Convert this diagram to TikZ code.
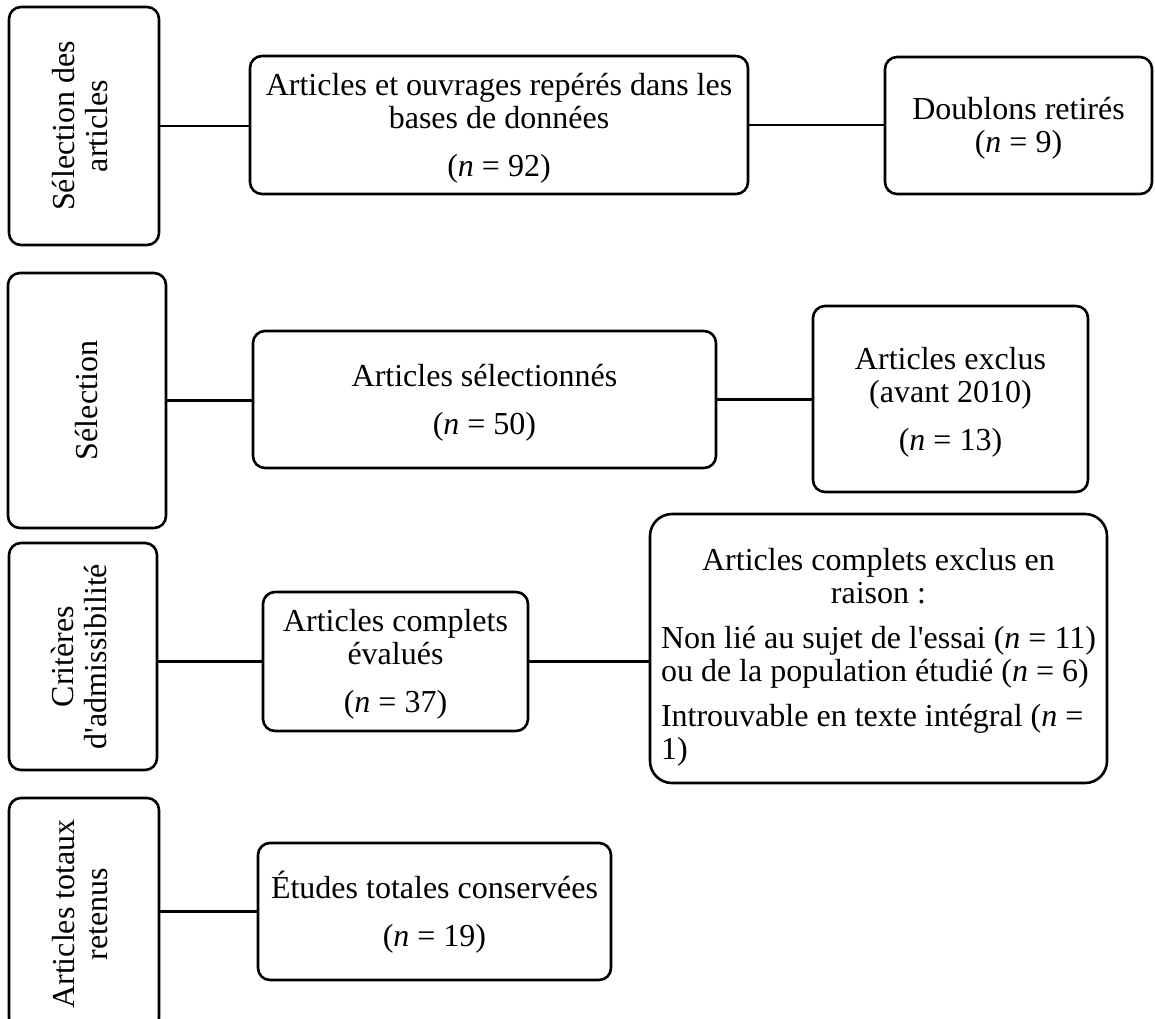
\documentclass[tikz,border=0pt]{standalone}
\usepackage{fontspec}
\newfontfamily\mainf{Liberation Serif}
\usepackage{graphicx}
\newcommand\bfnt{\mainf\fontsize{16}{16.5}\selectfont}
\newcommand\twolines[2]{\begin{tabular}{@{}c@{}}#1\\#2\end{tabular}}
\newcommand\ctr[1]{\multicolumn{1}{@{}c@{}}{#1}}
\begin{document}
\begin{tikzpicture}[x=0.5pt,y=-0.5pt,
  box/.style={draw, line width=1.3pt, rounded corners=6pt, inner sep=0pt,
    align=center, font=\bfnt},
  conn/.style={line width=1.3pt}]
\useasboundingbox (0,0) rectangle (1155,1018);

% left column
\node[box, minimum width=75pt, minimum height=119pt] (L1) at (84,126)
  {\rotatebox{90}{\twolines{Sélection des}{articles}}};
\node[box, minimum width=79pt, minimum height=127.5pt] (L2) at (87,400.5)
  {\rotatebox{90}{Sélection}};
\node[box, minimum width=74pt, minimum height=113.5pt] (L3) at (83,656.5)
  {\rotatebox{90}{\twolines{Critères}{d'admissibilité}}};
\node[box, minimum width=75pt, minimum height=116pt] (L4) at (84,914)
  {\rotatebox{90}{\twolines{Articles totaux}{retenus}}};

% middle column
\node[box, minimum width=249pt, minimum height=69pt] (M1) at (499,125)
  {\rule{0pt}{14pt}Articles et ouvrages repérés dans les\\bases de données\\[7.5pt](\textit{n} = 92)};
\node[box, minimum width=231.5pt, minimum height=68.5pt] (M2) at (484.5,399.5)
  {\rule{0pt}{14pt}Articles sélectionnés\\[7.5pt](\textit{n} = 50)};
\node[box, minimum width=132.5pt, minimum height=69.5pt] (M3) at (395.5,661.5)
  {\rule{0pt}{14pt}Articles complets\\évalués\\[7.5pt](\textit{n} = 37)};
\node[box, minimum width=176.5pt, minimum height=68.5pt] (M4) at (434.5,911.5)
  {\rule{0pt}{14pt}Études totales conservées\\[7.5pt](\textit{n} = 19)};

% right column
\node[box, minimum width=133.5pt, minimum height=68.5pt] (R1) at (1018.5,125.5)
  {\rule{0pt}{14pt}Doublons retirés\\(\textit{n} = 9)};
\node[box, minimum width=137.5pt, minimum height=93pt] (R2) at (950.5,399)
  {\rule{0pt}{14pt}Articles exclus\\(avant 2010)\\[7.5pt](\textit{n} = 13)};
\node[box, rounded corners=11pt, minimum width=228.5pt, minimum height=134.5pt]
  (R3) at (878.5,648.5)
  {\begin{tabular}{@{}l@{}}
   \ctr{\rule{0pt}{21pt}Articles complets exclus en}\\
   \ctr{raison :}\\[6pt]
   Non lié au sujet de l'essai (\textit{n} = 11)\\
   ou de la population étudié (\textit{n} = 6)\\[6pt]
   Introuvable en texte intégral (\textit{n} =\\
   1)
   \end{tabular}};

% connectors
\draw[conn] (L1.east) -- (L1.east -| M1.west);
\draw[conn] (M1.east) -- (M1.east -| R1.west);
\draw[conn] (L2.east) -- (L2.east -| M2.west);
\draw[conn] (M2.east) -- (M2.east -| R2.west);
\draw[conn] (M3.west -| L3.east) -- (M3.west);
\draw[conn] (M3.east) -- (M3.east -| R3.west);
\draw[conn] (M4.west -| L4.east) -- (M4.west);
\end{tikzpicture}
\end{document}
